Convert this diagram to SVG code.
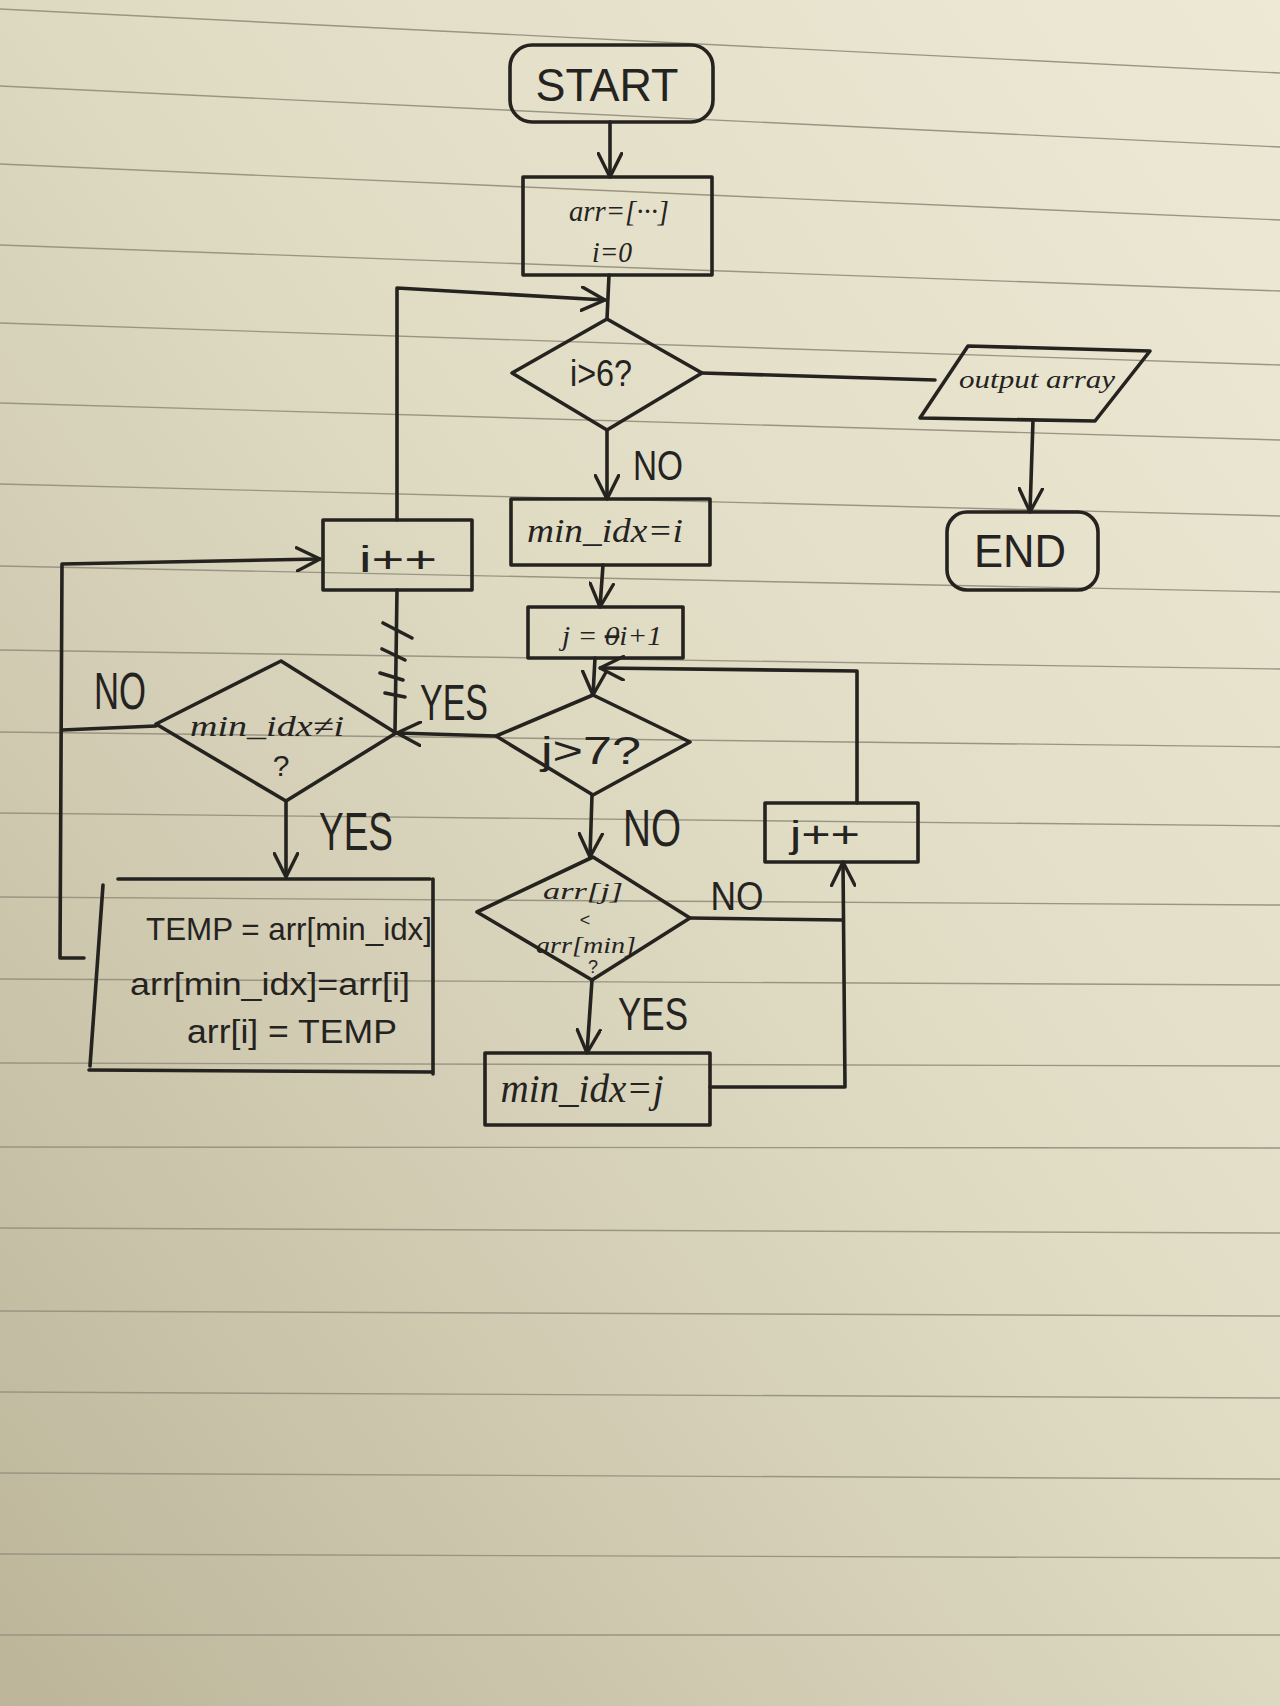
<svg xmlns="http://www.w3.org/2000/svg" width="1280" height="1706" viewBox="0 0 1280 1706">
<defs>
<linearGradient id="paper" x1="1" y1="0" x2="0" y2="1">
<stop offset="0" stop-color="#ede9d5"/>
<stop offset="0.45" stop-color="#e0dcc4"/>
<stop offset="1" stop-color="#bcb59a"/>
</linearGradient>
<marker id="arrow" viewBox="0 0 20 20" refX="19" refY="10" markerWidth="26" markerHeight="26" orient="auto" markerUnits="userSpaceOnUse">
<path d="M1,1 L19,10 L1,19" fill="none" stroke="#25231f" stroke-width="2.6" stroke-linecap="round" stroke-linejoin="round"/>
</marker>
<style>
.ink{fill:none;stroke:#25231f;stroke-width:3.6;stroke-linecap:round;stroke-linejoin:round}
.rule{stroke:#9a9582;stroke-width:1.4;fill:none}
.t{font-family:"Liberation Sans","DejaVu Sans",sans-serif;fill:#25231f;text-anchor:middle}
.h{font-family:"Liberation Serif","DejaVu Serif",serif;font-style:italic;fill:#25231f;text-anchor:middle}
</style>
</defs>

<g id="paper-bg">
<rect x="0" y="0" width="1280" height="1706" fill="url(#paper)"/>
<line class="rule" x1="0" y1="9" x2="1280" y2="73"/>
<line class="rule" x1="0" y1="86" x2="1280" y2="147"/>
<line class="rule" x1="0" y1="164" x2="1280" y2="220"/>
<line class="rule" x1="0" y1="245" x2="1280" y2="291"/>
<line class="rule" x1="0" y1="323" x2="1280" y2="365"/>
<line class="rule" x1="0" y1="403" x2="1280" y2="440"/>
<line class="rule" x1="0" y1="484" x2="1280" y2="516"/>
<line class="rule" x1="0" y1="566" x2="1280" y2="592"/>
<line class="rule" x1="0" y1="650" x2="1280" y2="669"/>
<line class="rule" x1="0" y1="732" x2="1280" y2="747"/>
<line class="rule" x1="0" y1="813" x2="1280" y2="826"/>
<line class="rule" x1="0" y1="897" x2="1280" y2="905"/>
<line class="rule" x1="0" y1="979" x2="1280" y2="985"/>
<line class="rule" x1="0" y1="1063" x2="1280" y2="1066"/>
<line class="rule" x1="0" y1="1147" x2="1280" y2="1148"/>
<line class="rule" x1="0" y1="1228" x2="1280" y2="1233"/>
<line class="rule" x1="0" y1="1311" x2="1280" y2="1316"/>
<line class="rule" x1="0" y1="1392" x2="1280" y2="1398"/>
<line class="rule" x1="0" y1="1473" x2="1280" y2="1479"/>
<line class="rule" x1="0" y1="1554" x2="1280" y2="1558"/>
<line class="rule" x1="0" y1="1635" x2="1280" y2="1635"/>
</g>

<g id="connectors">
<path class="ink" d="M610,122 L610,177" marker-end="url(#arrow)"/>
<path class="ink" d="M609,275 L607,319"/>
<path class="ink" d="M397,520 L397,288 L605,300" marker-end="url(#arrow)"/>
<path class="ink" d="M702,373 L935,380"/>
<path class="ink" d="M1033,420 L1030,512" marker-end="url(#arrow)"/>
<path class="ink" d="M607,430 L607,499" marker-end="url(#arrow)"/>
<path class="ink" d="M603,565 L600,607" marker-end="url(#arrow)"/>
<path class="ink" d="M595,658 L593,695" marker-end="url(#arrow)"/>
<path class="ink" d="M857,803 L857,671 L600,668" marker-end="url(#arrow)"/>
<path class="ink" d="M592,795 L590,857" marker-end="url(#arrow)"/>
<path class="ink" d="M690,918 L843,920"/>
<path class="ink" d="M710,1087 L845,1087 L843,862" marker-end="url(#arrow)"/>
<path class="ink" d="M592,980 L587,1053" marker-end="url(#arrow)"/>
<path class="ink" d="M496,736 L397,733" marker-end="url(#arrow)"/>
<path class="ink" d="M397,590 L395,732"/>
<path class="ink" d="M383,623 L412,638 M382,649 L405,660 M380,673 L403,680 M385,693 L405,697"/>
<path class="ink" d="M286,801 L286,877" marker-end="url(#arrow)"/>
<path class="ink" d="M156,726 L62,730"/>
<path class="ink" d="M84,958 L60,958 L62,564 L320,559" marker-end="url(#arrow)"/>
</g>

<g id="labels">
<text class="t" x="658" y="480" font-size="42" textLength="50" lengthAdjust="spacingAndGlyphs">NO</text>
<text class="t" x="120" y="709" font-size="52" textLength="52" lengthAdjust="spacingAndGlyphs">NO</text>
<text class="t" x="454" y="720" font-size="50" textLength="68" lengthAdjust="spacingAndGlyphs">YES</text>
<text class="t" x="356" y="850" font-size="54" textLength="74" lengthAdjust="spacingAndGlyphs">YES</text>
<text class="t" x="652" y="846" font-size="52" textLength="58" lengthAdjust="spacingAndGlyphs">NO</text>
<text class="t" x="737" y="910" font-size="40" textLength="53" lengthAdjust="spacingAndGlyphs">NO</text>
<text class="t" x="653" y="1030" font-size="46" textLength="70" lengthAdjust="spacingAndGlyphs">YES</text>
</g>

<g id="start">
<rect class="ink" x="510" y="45" width="203" height="77" rx="22"/>
<text class="t" x="607" y="101" font-size="46" textLength="143" lengthAdjust="spacingAndGlyphs">START</text>
</g>

<g id="init">
<rect class="ink" x="523" y="177" width="189" height="98"/>
<text class="h" x="619" y="221" font-size="30" textLength="100" lengthAdjust="spacingAndGlyphs">arr=[···]</text>
<text class="h" x="612" y="262" font-size="30" textLength="40" lengthAdjust="spacingAndGlyphs">i=0</text>
</g>

<g id="cond-i">
<polygon class="ink" points="607,319 702,373 607,430 512,373"/>
<text class="t" x="601" y="386" font-size="36" textLength="62" lengthAdjust="spacingAndGlyphs">i&gt;6?</text>
</g>

<g id="output">
<polygon class="ink" points="968,346 1150,351 1095,421 920,418"/>
<text class="h" x="1037" y="388" font-size="26" textLength="156" lengthAdjust="spacingAndGlyphs">output array</text>
</g>

<g id="end">
<rect class="ink" x="947" y="512" width="151" height="78" rx="20"/>
<text class="t" x="1020" y="567" font-size="46" textLength="92" lengthAdjust="spacingAndGlyphs">END</text>
</g>

<g id="init-min">
<rect class="ink" x="511" y="499" width="199" height="66"/>
<text class="h" x="605" y="542" font-size="34" textLength="156" lengthAdjust="spacingAndGlyphs">min_idx=i</text>
</g>

<g id="init-j">
<rect class="ink" x="528" y="607" width="155" height="51"/>
<text class="h" x="612" y="645" font-size="28" textLength="100" lengthAdjust="spacingAndGlyphs">j = <tspan text-decoration="line-through">0</tspan>i+1</text>
</g>

<g id="cond-j">
<polygon class="ink" points="593,695 690,742 593,795 496,736"/>
<text class="t" x="591" y="764" font-size="38" textLength="100" lengthAdjust="spacingAndGlyphs">j&gt;7?</text>
</g>

<g id="cond-cmp">
<polygon class="ink" points="593,857 690,918 592,980 477,912"/>
<text class="h" x="583" y="899" font-size="24" textLength="80" lengthAdjust="spacingAndGlyphs">arr[j]</text>
<text class="t" x="585" y="926" font-size="18">&lt;</text>
<text class="h" x="586" y="953" font-size="24" textLength="100" lengthAdjust="spacingAndGlyphs">arr[min]</text>
<text class="t" x="593" y="973" font-size="18">?</text>
</g>

<g id="set-min">
<rect class="ink" x="485" y="1053" width="225" height="72"/>
<text class="h" x="582" y="1102" font-size="40" textLength="163" lengthAdjust="spacingAndGlyphs">min_idx=j</text>
</g>

<g id="inc-j">
<rect class="ink" x="765" y="803" width="153" height="59"/>
<text class="t" x="825" y="847" font-size="36" textLength="70" lengthAdjust="spacingAndGlyphs">j++</text>
</g>

<g id="inc-i">
<rect class="ink" x="323" y="520" width="149" height="70"/>
<text class="t" x="398" y="572" font-size="36" textLength="78" lengthAdjust="spacingAndGlyphs">i++</text>
</g>

<g id="cond-swap">
<polygon class="ink" points="281,661 396,733 286,801 156,724"/>
<text class="h" x="267" y="736" font-size="30" textLength="154" lengthAdjust="spacingAndGlyphs">min_idx≠i</text>
<text class="t" x="281" y="776" font-size="30">?</text>
</g>

<g id="swap">
<path class="ink" d="M118,879 L430,879 M433,879 L433,1074 M89,1070 L433,1072 M103,885 L90,1066"/>
<text class="t" x="289" y="940" font-size="32" textLength="286" lengthAdjust="spacingAndGlyphs">TEMP = arr[min_idx]</text>
<text class="t" x="270" y="995" font-size="32" textLength="280" lengthAdjust="spacingAndGlyphs">arr[min_idx]=arr[i]</text>
<text class="t" x="292" y="1043" font-size="34" textLength="210" lengthAdjust="spacingAndGlyphs">arr[i] = TEMP</text>
</g>
</svg>
